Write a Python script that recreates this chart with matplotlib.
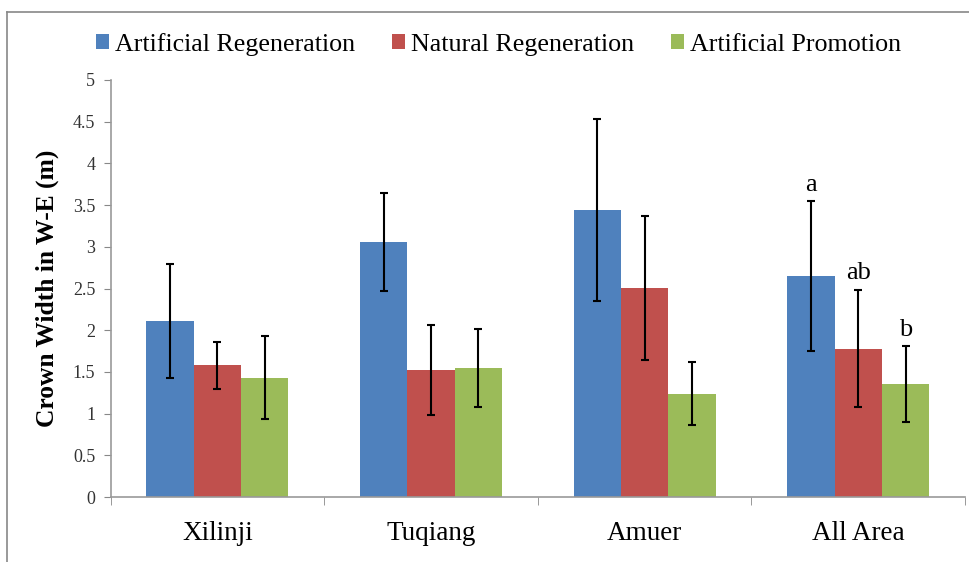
import numpy as np
import matplotlib.pyplot as plt
from matplotlib.lines import Line2D

# data
sites = ['Xilinji', 'Tuqiang', 'Amuer', 'All Area']
series = ['Artificial Regeneration', 'Natural Regeneration', 'Artificial Promotion']
colors = ['#4F81BD', '#C0504D', '#9BBB59']

art_regen = [2.11, 3.06, 3.44, 2.65]
nat_regen = [1.58, 1.52, 2.51, 1.78]
art_promo = [1.43, 1.55, 1.24, 1.355]

art_regen_sd = [0.68, 0.59, 1.09, 0.895]
nat_regen_sd = [0.28, 0.54, 0.865, 0.705]
art_promo_sd = [0.50, 0.465, 0.375, 0.45]

letters = ['a', 'ab', 'b']  # only on All Area

values = [art_regen, nat_regen, art_promo]
sds = [art_regen_sd, nat_regen_sd, art_promo_sd]

plt.rcParams['font.family'] = ['Liberation Serif', 'DejaVu Serif']

fig = plt.figure(figsize=[9.69, 5.62], dpi=100)
ax = fig.add_axes([110.5/969, 1 - 497/562, (965 - 110.5)/969, (497 - 80)/562])

# outer chart frame (top and left edges visible)
fig.add_artist(Line2D([7/969, 7/969], [0, 1 - 12/562], transform=fig.transFigure, color='#888888', lw=1.2))
fig.add_artist(Line2D([7/969, 1], [1 - 12/562, 1 - 12/562], transform=fig.transFigure, color='#888888', lw=1.2))

x = np.arange(len(sites))
w = 0.2216
for i in range(3):
    pos = x + (i - 1) * w
    ax.bar(pos, values[i], width=w, color=colors[i], label=series[i], zorder=2)
    ax.errorbar(pos, values[i], yerr=sds[i], fmt='none', ecolor='black',
                elinewidth=1.5, capsize=3, capthick=1.5, zorder=3)

# significance letters on the last group
for i in range(3):
    top = values[i][3] + sds[i][3]
    ax.annotate(letters[i], (x[3] + (i - 1) * w, top), xytext=(0, 4),
                textcoords='offset points', ha='center', va='bottom', fontsize=19)

ax.set_xlim(-0.5, len(sites) - 0.5)
ax.set_ylim(0, 5)
ax.set_yticks(np.arange(0, 5.01, 0.5))
ax.set_yticklabels(['0', '0.5', '1', '1.5', '2', '2.5', '3', '3.5', '4', '4.5', '5'])
ax.set_xticks(x)
ax.set_xticklabels(sites, fontsize=19.5)
ax.set_xticks(np.arange(-0.5, len(sites), 1.0), minor=True)
ax.tick_params(axis='x', which='major', length=0, pad=17)
ax.tick_params(axis='x', which='minor', length=6, color='#888888', direction='out')
ax.tick_params(axis='y', labelsize=13, length=5, color='#888888', colors='#333333', pad=6)
ax.tick_params(axis='x', labelcolor='black')

for s in ['top', 'right']:
    ax.spines[s].set_visible(False)
for s in ['left', 'bottom']:
    ax.spines[s].set_color('#999999')
    ax.spines[s].set_linewidth(1.2)

ax.set_ylabel('Crown Width in W-E (m)', fontsize=18.4, fontweight='bold', labelpad=10)

fig.legend(*ax.get_legend_handles_labels(), loc='center', bbox_to_anchor=(498.5/969, 1 - 44.5/562),
           ncol=3, frameon=False, fontsize=18.7, handlelength=0.5, handleheight=0.5,
           handletextpad=0.25, columnspacing=1.4)

plt.savefig('out.png', dpi=100)
